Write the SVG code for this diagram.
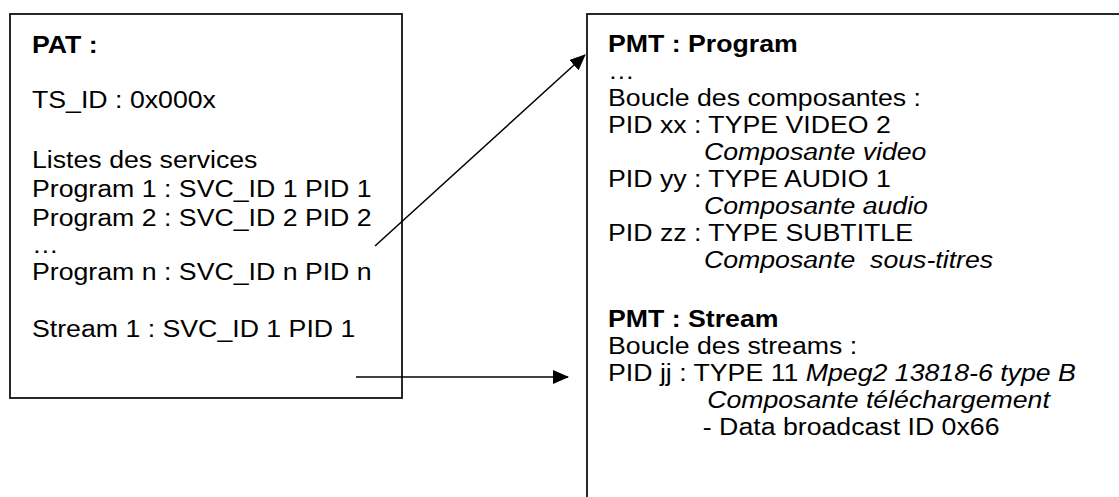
<svg xmlns="http://www.w3.org/2000/svg" width="1119" height="497" viewBox="0 0 1119 497">
<style>
.box{fill:#fff;stroke:#111;stroke-width:1.8}
.t{font-family:"Liberation Sans",Arial,sans-serif;font-size:24.5px;fill:#000}
.b{font-weight:bold}
.i{font-style:italic}
.c{stroke:#000;stroke-width:1.5;fill:none}
</style>
<defs>
<marker id="ah" markerWidth="16" markerHeight="14" refX="15" refY="7" orient="auto" markerUnits="userSpaceOnUse">
<path d="M0,0 L16,7 L0,14 Z" fill="#000"/>
</marker>
</defs>
<rect width="1119" height="497" fill="#fff"/>
<g id="pat">
<rect class="box" x="10" y="14" width="392" height="384"/>
<g transform="translate(32 0) scale(1.09 1)">
<text class="t b" x="0" y="53">PAT :</text>
<text class="t" x="0" y="108">TS_ID : 0x000x</text>
<text class="t" x="0" y="168">Listes des services</text>
<text class="t" x="0" y="197">Program 1 : SVC_ID 1 PID 1</text>
<text class="t" x="0" y="226">Program 2 : SVC_ID 2 PID 2</text>
<text class="t" x="0" y="253">…</text>
<text class="t" x="0" y="280">Program n : SVC_ID n PID n</text>
<text class="t" x="0" y="337">Stream 1 : SVC_ID 1 PID 1</text>
</g>
</g>
<g id="pmt">
<rect class="box" x="587" y="14" width="600" height="600"/>
<g transform="translate(608 0) scale(1.09 1)">
<text class="t b" x="0" y="52">PMT : Program</text>
<text class="t" x="0" y="79">…</text>
<text class="t" x="0" y="106">Boucle des composantes :</text>
<text class="t" x="0" y="133">PID xx : TYPE VIDEO 2</text>
<text class="t i" x="88" y="160">Composante video</text>
<text class="t" x="0" y="187">PID yy : TYPE AUDIO 1</text>
<text class="t i" x="88" y="214">Composante audio</text>
<text class="t" x="0" y="241">PID zz : TYPE SUBTITLE</text>
<text class="t i" x="88" y="268" xml:space="preserve">Composante  sous-titres</text>
<text class="t b" x="0" y="327">PMT : Stream</text>
<text class="t" x="0" y="354">Boucle des streams :</text>
<text class="t" x="0" y="381">PID jj : TYPE 11 <tspan class="i">Mpeg2 13818-6 type B</tspan></text>
<text class="t i" x="91" y="408">Composante téléchargement</text>
<text class="t" x="87" y="435">- Data broadcast ID 0x66</text>
</g>
</g>
<g id="connectors">
<line class="c" x1="375" y1="246" x2="585" y2="55" marker-end="url(#ah)"/>
<line class="c" x1="356" y1="377" x2="568" y2="377" marker-end="url(#ah)"/>
</g>
</svg>
